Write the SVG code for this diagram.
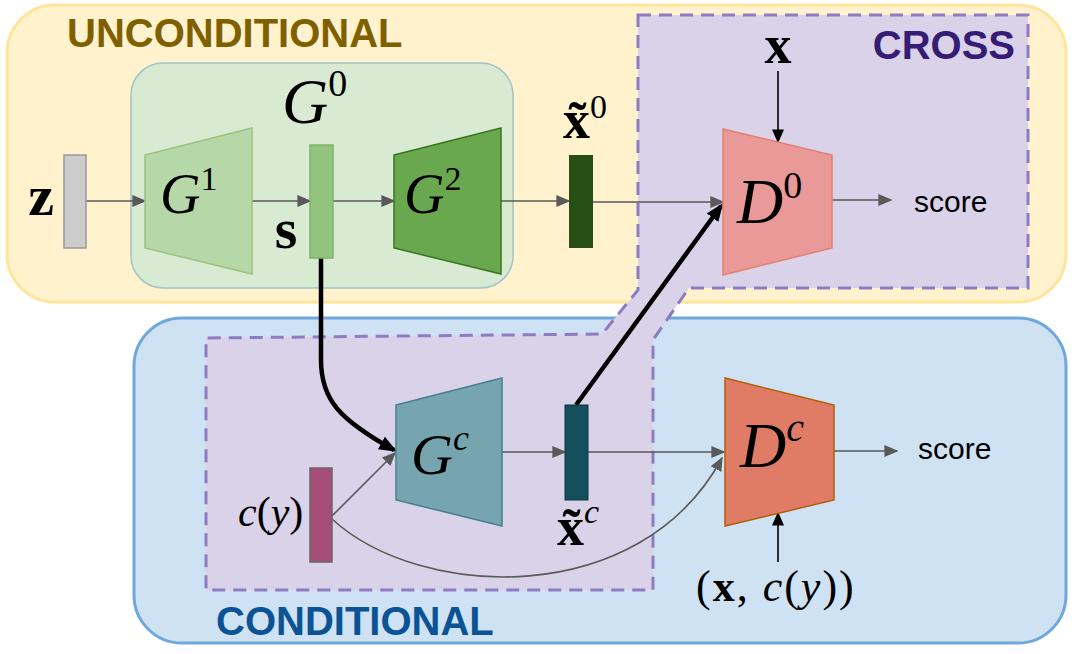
<svg xmlns="http://www.w3.org/2000/svg" width="1076" height="654" viewBox="0 0 1076 654">
<defs>
<marker id="ag" viewBox="0 0 10 10" refX="9" refY="5" markerWidth="14" markerHeight="12" markerUnits="userSpaceOnUse" orient="auto" preserveAspectRatio="none"><path d="M0,0 L10,5 L0,10 Z" fill="#595959"/></marker>
<marker id="ab" viewBox="0 0 10 10" refX="9" refY="5" markerWidth="14" markerHeight="12" markerUnits="userSpaceOnUse" orient="auto" preserveAspectRatio="none"><path d="M0,0 L10,5 L0,10 Z" fill="#000"/></marker>
<marker id="abt" viewBox="0 0 10 10" refX="8" refY="5" markerWidth="18" markerHeight="18" markerUnits="userSpaceOnUse" orient="auto"><path d="M0,1 L10,5 L0,9 Z" fill="#000"/></marker>
</defs>
<style>
.title{font-family:"Liberation Sans",Arial,sans-serif;font-weight:bold;font-size:40px}
.m{font-family:"Liberation Serif","Times New Roman",serif;font-style:italic;font-weight:normal;fill:#000}
.b{font-family:"Liberation Serif","Times New Roman",serif;font-weight:bold;fill:#000}
.r{font-family:"Liberation Serif","Times New Roman",serif;font-style:normal;font-weight:normal;fill:#000}
.sc{font-family:"Liberation Sans",Arial,sans-serif;font-size:30px;fill:#000}
.g{fill:none;stroke:#595959;stroke-width:1.6}
.k{fill:none;stroke:#000;stroke-width:1.6}
.kt{fill:none;stroke:#000;stroke-width:4.5}
</style>
<g id="unconditional">
<rect x="7" y="5" width="1059" height="297" rx="48" fill="#fff2cc" stroke="#ffe599" stroke-width="3"/>
<text class="title" x="67" y="47" fill="#7f6000">UNCONDITIONAL</text>
</g>
<g id="conditional">
<rect x="134" y="318" width="932" height="325" rx="48" fill="#cfe2f3" stroke="#6fa8dc" stroke-width="3"/>
<text class="title" x="216" y="635" fill="#0b5394">CONDITIONAL</text>
</g>
<g id="cross">
<path d="M638,15 L1028,15 L1028,288 L689,288 L653,340 L653,590 L206,590 L206,338 L602,334 L638,290 Z" fill="#d9d2e9" stroke="#8e7cc3" stroke-width="3" stroke-dasharray="13,8"/>
<text class="title" x="1015" y="59" text-anchor="end" fill="#351c75">CROSS</text>
</g>
<g id="G0">
<rect x="131" y="63" width="382" height="225" rx="32" fill="#d9ead3" stroke="#9fc5c8" stroke-width="1.5"/>
<text class="m" x="282" y="123" font-size="64">G<tspan class="r" font-size="38" dy="-27">0</tspan></text>
</g>
<g id="connectors">
<line class="g" x1="86" y1="201" x2="145" y2="201" marker-end="url(#ag)"/>
<line class="g" x1="252" y1="201" x2="310" y2="201" marker-end="url(#ag)"/>
<line class="g" x1="333" y1="201" x2="394" y2="201" marker-end="url(#ag)"/>
<line class="g" x1="501" y1="201" x2="569" y2="201" marker-end="url(#ag)"/>
<line class="g" x1="593" y1="202" x2="723" y2="202" marker-end="url(#ag)"/>
<line class="g" x1="832" y1="200" x2="891" y2="200" marker-end="url(#ag)"/>
<line class="k" x1="778" y1="71" x2="778" y2="142" marker-end="url(#ab)"/>
<line class="g" x1="502" y1="452" x2="565" y2="452" marker-end="url(#ag)"/>
<line class="g" x1="588" y1="452" x2="724" y2="452" marker-end="url(#ag)"/>
<line class="g" x1="834" y1="451" x2="897" y2="451" marker-end="url(#ag)"/>
<line class="g" x1="332" y1="516" x2="395" y2="453" marker-end="url(#ag)"/>
<path class="g" d="M332,519 C420,600 640,610 722,458" marker-end="url(#ag)"/>
<line class="k" x1="778" y1="562" x2="778" y2="513" marker-end="url(#ab)"/>
<path class="kt" d="M321,258 V360 C321,400 340,420 394,450" marker-end="url(#abt)"/>
<line class="kt" x1="576" y1="405" x2="721" y2="206" marker-end="url(#abt)"/>
</g>
<g id="z">
<rect x="64" y="155" width="22" height="93" fill="#cccccc" stroke="#999999" stroke-width="1.5"/>
<text class="b" x="41" y="215" font-size="58" text-anchor="middle">z</text>
</g>
<g id="G1">
<path d="M145,155 L252,128 L252,274 L145,248 Z" fill="#b6d7a8" stroke="#97c47e" stroke-width="1.5"/>
<text class="m" x="160" y="213" font-size="56">G<tspan class="r" font-size="34" dy="-23">1</tspan></text>
</g>
<g id="s">
<rect x="310" y="145" width="23" height="113" fill="#93c47d" stroke="#82b366" stroke-width="1.5"/>
<text class="b" x="286" y="248" font-size="58" text-anchor="middle">s</text>
</g>
<g id="G2">
<path d="M394,155 L501,128 L501,274 L394,248 Z" fill="#6aa84f" stroke="#38761d" stroke-width="1.5"/>
<text class="m" x="404" y="213" font-size="56">G<tspan class="r" font-size="34" dy="-23">2</tspan></text>
</g>
<g id="x0">
<rect x="569" y="155" width="24" height="93" fill="#274e13"/>
<text class="b" x="563" y="138" font-size="54">x̃<tspan class="r" font-size="34" dy="-20">0</tspan></text>
</g>
<g id="D0">
<path d="M723,129 L832,155 L832,248 L723,275 Z" fill="#ea9999" stroke="#e6806e" stroke-width="1.5"/>
<text class="m" x="737" y="223" font-size="64">D<tspan class="r" font-size="38" dy="-25">0</tspan></text>
<text class="b" x="778" y="63" font-size="54" text-anchor="middle">x</text>
<text class="sc" x="914" y="212">score</text>
</g>
<g id="cy">
<rect x="310" y="468" width="22" height="94" fill="#a64d79" stroke="#666666" stroke-width="1.5"/>
<text class="m" x="238" y="526" font-size="42">c<tspan class="r">(</tspan>y<tspan class="r">)</tspan></text>
</g>
<g id="Gc">
<path d="M396,405 L502,378 L502,526 L396,500 Z" fill="#76a5af" stroke="#45818e" stroke-width="1.5"/>
<text class="m" x="411" y="474" font-size="58">G<tspan font-size="36" dy="-24">c</tspan></text>
</g>
<g id="xc">
<rect x="565" y="405" width="23" height="95" fill="#134f5c" stroke="#0c343d" stroke-width="1"/>
<text class="b" x="557" y="545" font-size="54">x̃<tspan class="m" font-size="34" dy="-22">c</tspan></text>
</g>
<g id="Dc">
<path d="M725,378 L834,405 L834,500 L725,526 Z" fill="#e07c66" stroke="#b45f06" stroke-width="1.5"/>
<text class="m" x="740" y="467" font-size="64">D<tspan font-size="40" dy="-26">c</tspan></text>
<text class="sc" x="918" y="459">score</text>
<text class="r" x="696" y="601" font-size="44" letter-spacing="2">(<tspan class="b">x</tspan>, <tspan class="m">c</tspan>(<tspan class="m">y</tspan>))</text>
</g>
</svg>
